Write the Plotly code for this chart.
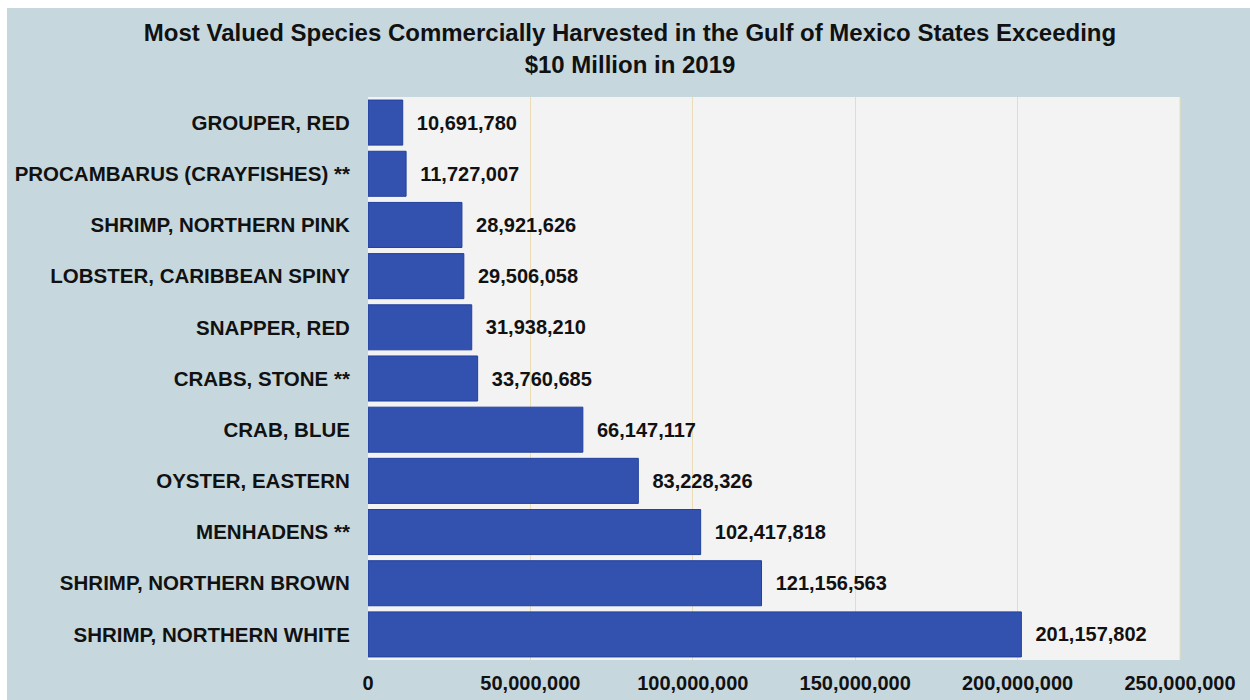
import plotly.graph_objects as go

species = [
    "GROUPER, RED",
    "PROCAMBARUS (CRAYFISHES) **",
    "SHRIMP, NORTHERN PINK",
    "LOBSTER, CARIBBEAN SPINY",
    "SNAPPER, RED",
    "CRABS, STONE **",
    "CRAB, BLUE",
    "OYSTER, EASTERN",
    "MENHADENS **",
    "SHRIMP, NORTHERN BROWN",
    "SHRIMP, NORTHERN WHITE",
]
values = [
    10691780,
    11727007,
    28921626,
    29506058,
    31938210,
    33760685,
    66147117,
    83228326,
    102417818,
    121156563,
    201157802,
]
tick_vals = [0, 50000000, 100000000, 150000000, 200000000, 250000000]
tick_text = ["0", "50,000,000", "100,000,000", "150,000,000", "200,000,000", "250,000,000"]

labels = ["  " + f"{v:,}" for v in values]

fig = go.Figure(
    go.Bar(
        x=values,
        y=species,
        orientation="h",
        text=labels,
        textposition="outside",
        cliponaxis=False,
        textfont=dict(family="Liberation Sans", size=20, color="#111111", weight="bold"),
        marker=dict(color="#3352b0", line=dict(color="#22409c", width=1)),
        hoverinfo="skip",
    )
)

fig.update_layout(
    width=1250,
    height=700,
    paper_bgcolor="#c6d8de",
    plot_bgcolor="#f3f3f3",
    margin=dict(l=368, r=70, t=97, b=40),
    bargap=0.12,
    showlegend=False,
    title=dict(
        text="Most Valued Species Commercially Harvested in the Gulf of Mexico States Exceeding<br>$10 Million in 2019",
        x=0.504,
        xanchor="center",
        y=0.941,
        yanchor="top",
        font=dict(family="Liberation Sans", size=24, color="#111111", weight="bold"),
    ),
    xaxis=dict(
        range=[0, 250000000],
        tickvals=tick_vals,
        ticktext=tick_text,
        showgrid=True,
        gridcolor="#eadcb4",
        gridwidth=1,
        zeroline=False,
        showline=False,
        ticks="outside",
        ticklen=5,
        tickcolor="rgba(0,0,0,0)",
        automargin=False,
        tickfont=dict(family="Liberation Sans", size=20, color="#111111", weight="bold"),
    ),
    yaxis=dict(
        autorange="reversed",
        showgrid=False,
        zeroline=False,
        showline=False,
        ticks="outside",
        ticklen=13,
        tickcolor="rgba(0,0,0,0)",
        automargin=False,
        tickfont=dict(family="Liberation Sans", size=20.5, color="#111111", weight="bold"),
    ),
    shapes=[
        dict(type="rect", xref="paper", yref="paper", x0=-0.46, x1=1.1, y0=1.158, y1=1.19,
             fillcolor="white", line=dict(width=0), layer="below"),
        dict(type="rect", xref="paper", yref="paper", x0=-0.46, x1=-0.4446, y0=-0.1, y1=1.19,
             fillcolor="white", line=dict(width=0), layer="below"),
        dict(type="line", xref="paper", yref="paper", x0=1, x1=1, y0=0, y1=1,
             line=dict(color="#eadcb4", width=1)),
    ],
)

fig.write_html("out.html")
